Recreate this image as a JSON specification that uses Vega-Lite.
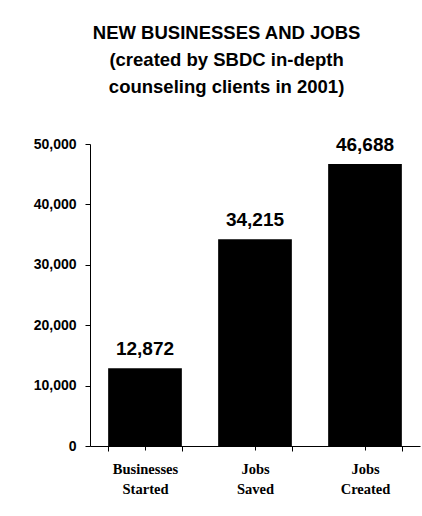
{
  "$schema": "https://vega.github.io/schema/vega-lite/v6.json",
  "width": 330,
  "height": 302,
  "autosize": "none",
  "padding": {"left": 90, "top": 144, "right": 2, "bottom": 70},
  "background": "white",
  "title": {
    "text": ["NEW BUSINESSES AND JOBS", "(created by SBDC in-depth", "counseling clients in 2001)"],
    "font": "Liberation Sans",
    "fontSize": 18.5,
    "fontWeight": "bold",
    "color": "black",
    "lineHeight": 27,
    "anchor": "middle",
    "frame": "bounds",
    "offset": 40
  },
  "data": {
    "values": [
      {"category": "Businesses Started", "value": 12872},
      {"category": "Jobs Saved", "value": 34215},
      {"category": "Jobs Created", "value": 46688}
    ]
  },
  "config": {
    "view": {"stroke": null},
    "axis": {"grid": false, "domainColor": "black", "tickColor": "black", "domainWidth": 1, "tickWidth": 1}
  },
  "resolve": {"axis": {"x": "independent"}},
  "layer": [
    {
      "mark": {"type": "bar", "color": "black"},
      "encoding": {
        "x": {
          "field": "category", "type": "nominal", "sort": null,
          "scale": {"paddingInner": 0.33, "paddingOuter": 0.165},
          "axis": {
            "title": null, "labelAngle": 0, "tickBand": "extent", "tickSize": 5,
            "labelExpr": "split(datum.label, ' ')",
            "labelFont": "Liberation Serif", "labelFontWeight": "bold", "labelFontSize": 14.5,
            "labelColor": "black", "labelLineHeight": 20, "labelPadding": 11
          }
        },
        "y": {
          "field": "value", "type": "quantitative",
          "scale": {"domain": [0, 50000]},
          "axis": {
            "title": null, "values": [0, 10000, 20000, 30000, 40000, 50000], "format": ",d",
            "tickSize": 5, "labelPadding": 9,
            "labelFont": "Liberation Sans", "labelFontWeight": "bold", "labelFontSize": 14,
            "labelColor": "black"
          }
        }
      }
    },
    {
      "mark": {"type": "text", "baseline": "alphabetic", "dy": -13, "font": "Liberation Sans", "fontWeight": "bold", "fontSize": 19, "color": "black"},
      "encoding": {
        "x": {
          "field": "category", "type": "nominal", "sort": null,
          "axis": {"orient": "bottom", "title": null, "labels": false, "domain": false, "ticks": true, "tickSize": 4}
        },
        "y": {"field": "value", "type": "quantitative"},
        "text": {"field": "value", "type": "quantitative", "format": ",d"}
      }
    }
  ]
}
